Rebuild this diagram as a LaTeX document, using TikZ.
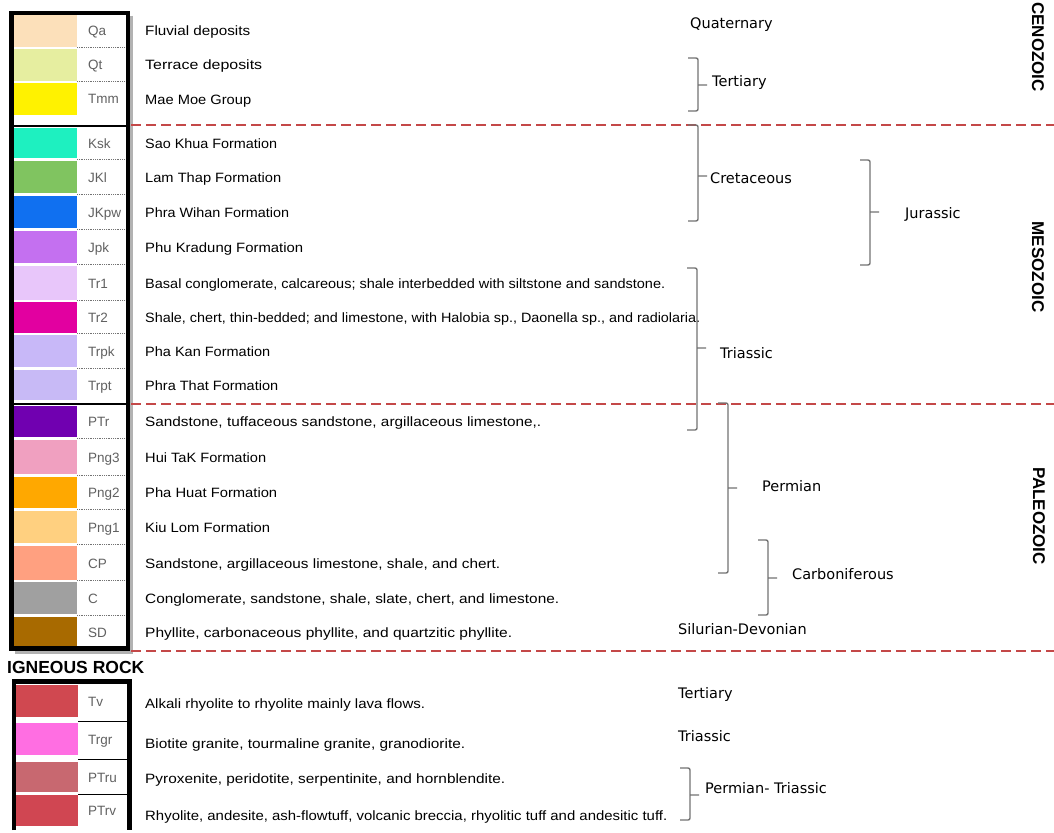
\documentclass[tikz,border=0pt]{standalone}
\usepackage{fontspec}
\setmainfont{Liberation Sans}
\newfontfamily\periodfont{DejaVu Sans}
\usepackage{graphicx}
\usepackage{tikz}
\usetikzlibrary{positioning}
\usepackage{xcolor}
\definecolor{geored}{RGB}{196,72,72}
\definecolor{cQa}{RGB}{252,224,186}
\definecolor{cQt}{RGB}{230,238,160}
\definecolor{cTmm}{RGB}{255,242,0}
\definecolor{cKsk}{RGB}{30,240,192}
\definecolor{cJKl}{RGB}{128,196,96}
\definecolor{cJKpw}{RGB}{16,112,240}
\definecolor{cJpk}{RGB}{196,112,240}
\definecolor{cTrI}{RGB}{232,198,250}
\definecolor{cTrII}{RGB}{226,0,160}
\definecolor{cTrpk}{RGB}{200,184,248}
\definecolor{cTrpt}{RGB}{200,186,246}
\definecolor{cPTr}{RGB}{112,0,176}
\definecolor{cPngC}{RGB}{240,160,192}
\definecolor{cPngB}{RGB}{255,168,0}
\definecolor{cPngA}{RGB}{255,208,128}
\definecolor{cCP}{RGB}{255,160,128}
\definecolor{cC}{RGB}{160,160,160}
\definecolor{cSD}{RGB}{168,106,0}
\definecolor{cTv}{RGB}{208,72,80}
\definecolor{cTrgr}{RGB}{255,110,226}
\definecolor{cPTru}{RGB}{200,104,112}
\definecolor{cPTrv}{RGB}{208,70,82}

\begin{document}
\begin{tikzpicture}[x=1pt,y=-1pt,
    desc/.style={anchor=base west,inner sep=0pt,font=\fontsize{13.5}{16}\selectfont},
    code/.style={anchor=base west,inner sep=0pt,text=black!62,font=\fontsize{13.5}{16}\selectfont},
    period/.style={anchor=west,inner sep=0pt,font=\periodfont\fontsize{14.5}{17}\selectfont},
    era/.style={rotate=-90,inner sep=0pt,font=\bfseries\fontsize{17}{19}\selectfont},
    brk/.style={draw=black!55,line width=1.4pt,rounded corners=2pt},
    bound/.style={draw=geored,line width=1.4pt,dash pattern=on 10pt off 5pt},
    sep/.style={draw=black!55,densely dotted,line width=0.8pt}]
    \fill[white] (0,0) rectangle (1054,832);
    \useasboundingbox (0,0) rectangle (1054,832);

    % Sedimentary legend
    \foreach \ya/\yb/\col/\cd/\w/\txt [count=\i] in {
        15/47/cQa/Qa/105/{Fluvial deposits},
        49/81/cQt/Qt/117/{Terrace deposits},
        83/115/cTmm/Tmm/106/{Mae Moe  Group},
        128/158/cKsk/Ksk/132/{Sao Khua Formation},
        161/193/cJKl/JKl/136/{Lam Thap Formation},
        196/228/cJKpw/JKpw/144/{Phra Wihan Formation},
        231/263/cJpk/Jpk/158/{Phu Kradung Formation},
        266/300/cTrI/Tr1/520/{Basal conglomerate, calcareous; shale interbedded with siltstone and sandstone.},
        302/333/cTrII/Tr2/555/{Shale, chert, thin-bedded; and limestone, with Halobia sp., Daonella sp., and radiolaria.},
        335/367/cTrpk/Trpk/125/{Pha Kan Formation},
        370/400/cTrpt/Trpt/133/{Phra That Formation},
        406/437/cPTr/PTr/396/{Sandstone, tuffaceous sandstone, argillaceous limestone,.},
        440/474/cPngC/Png3/121/{Hui TaK Formation},
        477/508/cPngB/Png2/132/{Pha Huat Formation},
        511/543/cPngA/Png1/125/{Kiu Lom  Formation},
        546/580/cCP/CP/355/{Sandstone, argillaceous limestone, shale, and chert.},
        582/614/cC/C/414/{Conglomerate, sandstone, shale, slate, chert, and limestone.},
        617/647/cSD/SD/367/{Phyllite, carbonaceous phyllite, and quartzitic phyllite.}}
    {
        \fill[\col] (14,\ya) rectangle (77,\yb);
        \draw[sep] (77,\ya-1.5) -- (126,\ya-1.5);
        \node[code] (sc\i) at (88,{(\ya+\yb)/2+5}) {\cd};
        \node[desc] (sd\i) at (145,{(\ya+\yb)/2+5}) {\resizebox{\w pt}{\height}{\txt}};
    }
    \draw[line width=2.5pt] (14,126) -- (126,126) (14,404) -- (126,404);
    \draw[black!30,line width=3pt] (131.5,16) -- (131.5,652) -- (15,652);
    \draw[line width=4.5pt] (11.5,13) rectangle (128,648.5);

    % Igneous legend
    \node[anchor=west,inner sep=0pt,font=\bfseries\fontsize{17.5}{20}\selectfont] (igneous) at (7,667) {IGNEOUS ROCK};
    \foreach \ya/\yb/\col/\cd/\w/\ty/\txt [count=\i] in {
        685/717/cTv/Tv/280/703/{Alkali rhyolite to rhyolite mainly lava flows.},
        723/755/cTrgr/Trgr/320/743/{Biotite granite, tourmaline granite, granodiorite.},
        762/792/cPTru/PTru/360/778/{Pyroxenite, peridotite, serpentinite, and hornblendite.},
        795/826/cPTrv/PTrv/522/815/{Rhyolite, andesite, ash-flowtuff, volcanic breccia, rhyolitic tuff and andesitic tuff.}}
    {
        \fill[\col] (16,\ya) rectangle (78,\yb);
        \node[code] (ic\i) at (88,{(\ya+\yb)/2+5}) {\cd};
        \node[desc] (id\i) at (145,\ty+5) {\resizebox{\w pt}{\height}{\txt}};
    }
    \draw[line width=1pt] (78,721) -- (127,721) (78,759) -- (127,759) (78,794) -- (127,794);
    \draw[line width=4.5pt] (14,830) -- (14,681.5) -- (129.5,681.5) -- (129.5,830);

    % Era boundaries
    \draw[bound] (131,125) -- (1054,125);
    \draw[bound] (131,404) -- (1054,404);
    \draw[bound] (131,651) -- (1054,651);
    \node[era] (ceno) at (1038,47) {CENOZOIC};
    \node[era] (meso) at (1038,267) {MESOZOIC};
    \node[era] (paleo) at (1039,516) {PALEOZOIC};

    % Periods
    \foreach \x/\ya/\yb/\ym in {698/58/111/85, 698/125/221/176, 870/160/265/212,
        697/268/430/348, 728/403/573/488, 768/540/615/578, 690/768/820/795}
        \draw[brk] (\x-10,\ya) -- (\x,\ya) -- (\x,\yb) -- (\x-10,\yb) (\x,\ym) -- (\x+9,\ym);
    \node[period] (quat) at (690,25) {Quaternary};
    \node[period] (tert) at (712,83) {Tertiary};
    \node[period] (cret) at (710,178) {Cretaceous};
    \node[period] (jura) at (905,214) {Jurassic};
    \node[period] (tria) at (720,353) {Triassic};
    \node[period] (perm) at (762,486) {Permian};
    \node[period] (carb) at (792,574) {Carboniferous};
    \node[period] (silu) at (678,629) {Silurian-Devonian};
    \node[period] (itert) at (678,694) {Tertiary};
    \node[period] (itria) at (678,736) {Triassic};
    \node[period] (iperm) at (705,788) {Permian- Triassic};
\end{tikzpicture}
\end{document}
